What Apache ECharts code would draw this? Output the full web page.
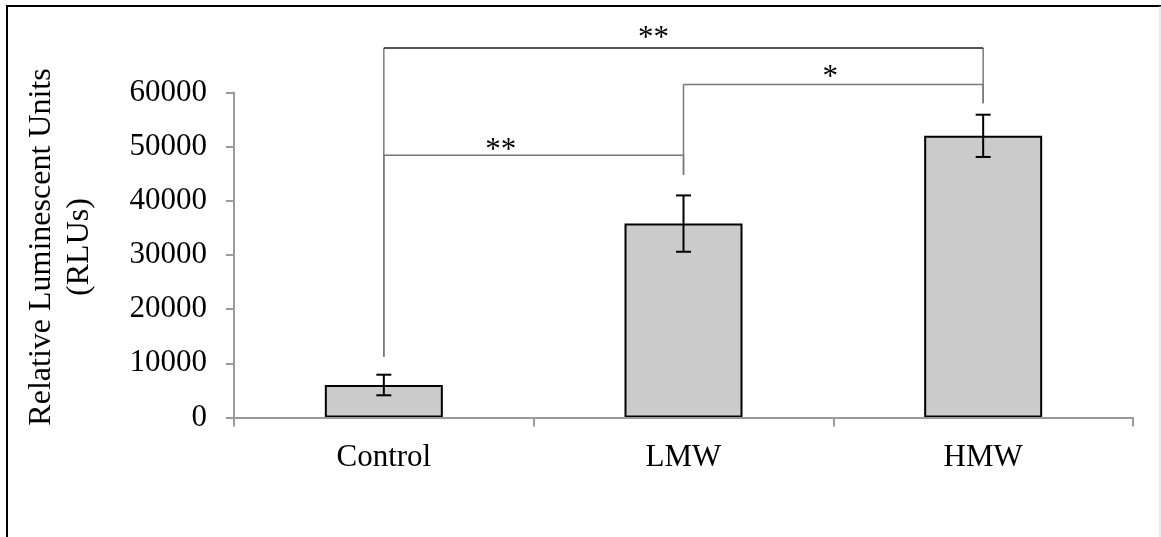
<!DOCTYPE html>
<html><head><meta charset="utf-8">
<script src="https://cdn.jsdelivr.net/npm/echarts@6/dist/echarts.min.js"></script>
<style>html,body{margin:0;padding:0;background:#fff}#c{width:1161px;height:537px}</style>
</head><body><div id="c"></div>
<script>
// ---- data ----
const categories = ['Control', 'LMW', 'HMW'];
const meanValues = [6000, 35800, 52000];
const errorValues = [1900, 5200, 3900];
const yMin = 0, yMax = 60000, yInterval = 10000;
const yAxisTitle = 'Relative Luminescent Units\n(RLUs)';
// significance brackets (category indices and value levels)
const bracketFrom = [0, 1, 0];
const bracketTo = [2, 2, 1];
const bracketLevel = [68200, 61500, 48400];
const bracketLeftEnd = [11200, 44800, 11200];
const bracketRightEnd = [58000, 58000, 44800];
const bracketLabels = ['**', '*', '**'];
const bracketLabelCat = [0.9, 1.49, 0.39];
const bracketLabelLevel = [69900, 62700, 49200];

const FONT = '"Liberation Serif", "Times New Roman", serif';
const chart = echarts.init(document.getElementById('c'), null, {renderer: 'canvas'});

function catX(api, c) {
  const i0 = Math.floor(c), i1 = Math.min(i0 + 1, categories.length - 1);
  const x0 = api.coord([i0, 0])[0];
  if (i1 === i0) return x0;
  const x1 = api.coord([i1, 0])[0];
  return x0 + (c - i0) * (x1 - x0);
}

chart.setOption({
  animation: false,
  backgroundColor: '#fff',
  grid: {left: 234, right: 28, top: 92.5, bottom: 119.5, containLabel: false},
  xAxis: {
    type: 'category', data: categories, z: 10,
    axisLine: {lineStyle: {color: '#9a9a9a', width: 2}},
    axisTick: {show: true, length: 9, lineStyle: {color: '#9a9a9a', width: 2}},
    axisLabel: {color: '#000', fontFamily: FONT, fontSize: 31, margin: 25}
  },
  yAxis: {
    type: 'value', min: yMin, max: yMax, interval: yInterval,
    name: yAxisTitle, nameLocation: 'middle', nameRotate: 90, nameGap: 135,
    nameTextStyle: {color: '#000', fontFamily: FONT, fontSize: 32, lineHeight: 38, padding: [0, 0, 0, 16]},
    axisLine: {show: true, lineStyle: {color: '#9a9a9a', width: 2}},
    axisTick: {show: true, length: 8, lineStyle: {color: '#9a9a9a', width: 2}},
    splitLine: {show: false},
    axisLabel: {color: '#000', fontFamily: FONT, fontSize: 31, margin: 27, formatter: v => String(v)}
  },
  graphic: [
    {type: 'line', shape: {x1: 7, y1: 6, x2: 7, y2: 537}, style: {stroke: '#000', lineWidth: 2}},
    {type: 'line', shape: {x1: 6, y1: 6, x2: 1161, y2: 6}, style: {stroke: '#000', lineWidth: 2}},
    {type: 'line', shape: {x1: 1160, y1: 6, x2: 1160, y2: 537}, style: {stroke: '#d8d8d8', lineWidth: 1}}
  ],
  series: [
    {
      type: 'bar', data: meanValues, barWidth: 118, z: 2,
      itemStyle: {color: '#cbcbcb', borderColor: '#000', borderWidth: 2}
    },
    {
      type: 'custom', z: 5, clip: false,
      data: meanValues.map((v, i) => [i, v, errorValues[i]]),
      renderItem: function (params, api) {
        const i = api.value(0), v = api.value(1), e = api.value(2);
        const top = api.coord([i, v + e]), bot = api.coord([i, v - e]);
        const x = top[0], hw = 7.5;
        const st = {stroke: '#000', lineWidth: 2};
        return {type: 'group', children: [
          {type: 'line', shape: {x1: x, y1: top[1], x2: x, y2: bot[1]}, style: st},
          {type: 'line', shape: {x1: x - hw, y1: top[1], x2: x + hw, y2: top[1]}, style: st},
          {type: 'line', shape: {x1: x - hw, y1: bot[1], x2: x + hw, y2: bot[1]}, style: st}
        ]};
      }
    },
    {
      type: 'custom', z: 4, clip: false,
      data: bracketLevel.map((v, i) => [i, v]),
      renderItem: function (params, api) {
        const k = api.value(0);
        const xl = catX(api, bracketFrom[k]), xr = catX(api, bracketTo[k]);
        const yLev = api.coord([0, bracketLevel[k]])[1];
        const yL = api.coord([0, bracketLeftEnd[k]])[1];
        const yR = api.coord([0, bracketRightEnd[k]])[1];
        const lx = catX(api, bracketLabelCat[k]);
        const ly = api.coord([0, bracketLabelLevel[k]])[1];
        const hcol = k === 0 ? '#1a1a1a' : '#777';
        const vst = {stroke: '#7a7a7a', lineWidth: 1.5};
        return {type: 'group', children: [
          {type: 'line', shape: {x1: xl, y1: yLev, x2: xl, y2: yL}, style: vst},
          {type: 'line', shape: {x1: xr, y1: yLev, x2: xr, y2: yR}, style: vst},
          {type: 'line', shape: {x1: xl, y1: yLev, x2: xr, y2: yLev}, style: {stroke: hcol, lineWidth: 1.5}},
          {type: 'text', x: lx, y: ly, style: {text: bracketLabels[k], fill: '#000', font: '31px ' + FONT, align: 'center', verticalAlign: 'middle'}}
        ]};
      }
    }
  ]
});
</script></body></html>
